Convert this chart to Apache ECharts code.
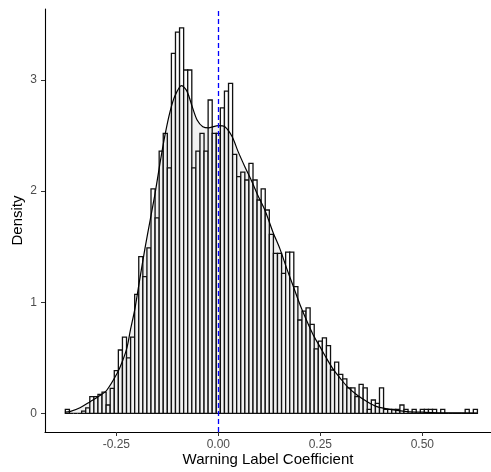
<!DOCTYPE html>
<html>
<head>
<meta charset="utf-8">
<script src="https://cdn.jsdelivr.net/npm/echarts@6/dist/echarts.min.js"></script>
<style>
html,body{margin:0;padding:0;background:#fff;}
#chart{width:491px;height:472px;}
</style>
</head>
<body>
<div id="chart"></div>
<script>
// Histogram bins (width 0.01), centers
const binWidth = 0.01;
const binCenters = [-0.37,-0.36,-0.35,-0.34,-0.33,-0.32,-0.31,-0.30,-0.29,-0.28,
  -0.27,-0.26,-0.25,-0.24,-0.23,-0.22,-0.21,-0.20,-0.19,-0.18,
  -0.17,-0.16,-0.15,-0.14,-0.13,-0.12,-0.11,-0.10,-0.09,-0.08,
  -0.07,-0.06,-0.05,-0.04,-0.03,-0.02,-0.01,0.00,0.01,0.02,
  0.03,0.04,0.05,0.06,0.07,0.08,0.09,0.10,0.11,0.12,
  0.13,0.14,0.15,0.16,0.17,0.18,0.19,0.20,0.21,0.22,
  0.23,0.24,0.25,0.26,0.27,0.28,0.29,0.30,0.31,0.32,
  0.33,0.34,0.35,0.36,0.37,0.38,0.39,0.40,0.41,0.42,
  0.43,0.44,0.45,0.46,0.47,0.48,0.49,0.50,0.51,0.52,
  0.53,0.54,0.55,0.56,0.57,0.58,0.59,0.60,0.61,0.62,0.63];
const binDensity = [0.036,0,0,0,0.02,0.05,0.15,0.15,0.17,0.19,
  0.075,0.225,0.385,0.57,0.685,0.50,0.685,1.07,1.41,1.23,
  1.49,2.02,1.76,2.36,2.52,2.21,3.24,3.43,3.47,3.09,
  3.09,2.21,2.36,2.52,2.36,2.82,2.52,2.52,2.75,2.90,
  2.97,2.33,2.13,2.17,2.10,2.25,2.10,1.92,2.02,1.83,
  1.61,1.44,1.44,1.26,1.45,1.45,1.14,0.84,0.92,0.95,
  0.80,0.58,0.65,0.68,0.61,0.39,0.46,0.35,0.31,0.23,
  0.23,0.15,0.26,0.23,0.036,0.12,0.09,0.23,0.036,0.036,
  0.036,0.036,0.075,0.036,0,0.036,0,0.036,0.036,0.036,
  0.036,0,0.036,0,0,0,0,0,0.036,0,0.036];

// Kernel density curve
const curveX = [-0.376,-0.364,-0.339,-0.314,-0.290,-0.273,-0.248,-0.236,-0.224,-0.216,
  -0.204,-0.192,-0.180,-0.167,-0.155,-0.143,-0.131,-0.118,-0.106,-0.090,
  -0.077,-0.064,-0.052,-0.038,-0.023,0.000,0.016,0.034,0.048,0.065,
  0.083,0.097,0.114,0.134,0.151,0.168,0.183,0.200,0.217,0.232,
  0.249,0.266,0.281,0.298,0.316,0.340,0.365,0.389,0.421,0.463,
  0.502,0.561,0.634];
const curveY = [0.01,0.015,0.05,0.105,0.16,0.21,0.36,0.46,0.59,0.74,
  0.95,1.22,1.48,1.74,1.98,2.25,2.50,2.72,2.86,2.95,
  2.90,2.76,2.64,2.58,2.57,2.59,2.58,2.49,2.36,2.22,
  2.08,1.96,1.83,1.63,1.48,1.30,1.15,0.98,0.83,0.71,
  0.60,0.49,0.40,0.32,0.24,0.165,0.105,0.06,0.035,0.016,
  0.01,0.004,0.003];

const xTicks = [-0.25, 0, 0.25, 0.5];
const xTickLabels = ['-0.25', '0.00', '0.25', '0.50'];
const yTicks = [0, 1, 2, 3];
const yTickLabels = ['0', '1', '2', '3'];
const refLineX = 0;

const font = '"Liberation Sans", Arial, Helvetica, sans-serif';
const chart = echarts.init(document.getElementById('chart'), null, {renderer: 'canvas'});

const barData = binCenters.map((c, i) => [c, binDensity[i]]);
const curveData = curveX.map((x, i) => [x, curveY[i]]);

chart.setOption({
  animation: false,
  backgroundColor: '#ffffff',
  grid: {left: 45, right: 0, top: 9, bottom: 40, containLabel: false, outerBoundsMode: 'none'},
  xAxis: {
    type: 'value', min: -0.4248, max: 0.6683,
    name: 'Warning Label Coefficient', nameLocation: 'middle', nameGap: 28, nameMoveOverlap: false,
    nameTextStyle: {fontFamily: font, fontSize: 15, color: '#000', verticalAlign: 'middle'},
    axisLine: {show: true, onZero: false, lineStyle: {color: '#000', width: 1.1}},
    axisTick: {show: true, customValues: xTicks, length: 4, lineStyle: {color: '#333', width: 1}},
    axisLabel: {customValues: xTicks, margin: 7, fontFamily: font, fontSize: 12, color: '#4D4D4D',
      formatter: v => { const k = xTicks.findIndex(t => Math.abs(t - v) < 1e-9); return k >= 0 ? xTickLabels[k] : ''; }},
    splitLine: {show: false}
  },
  yAxis: {
    type: 'value', min: -0.168, max: 3.639,
    name: 'Density', nameLocation: 'middle', nameGap: 27, nameRotate: 90, nameMoveOverlap: false,
    nameTextStyle: {fontFamily: font, fontSize: 15, color: '#000', verticalAlign: 'middle', align: 'center'},
    axisLine: {show: true, onZero: false, lineStyle: {color: '#000', width: 1.1}},
    axisTick: {show: true, customValues: yTicks, length: 4, lineStyle: {color: '#333', width: 1}},
    axisLabel: {customValues: yTicks, margin: 8, fontFamily: font, fontSize: 12, color: '#4D4D4D',
      formatter: v => { const k = yTicks.findIndex(t => Math.abs(t - v) < 1e-9); return k >= 0 ? yTickLabels[k] : ''; }},
    splitLine: {show: false}
  },
  series: [
    {
      type: 'custom',
      data: barData,
      z: 2,
      renderItem: function (params, api) {
        const c = api.value(0), h = api.value(1);
        const p0 = api.coord([c - binWidth / 2, h]);
        const p1 = api.coord([c + binWidth / 2, 0]);
        return {
          type: 'rect',
          shape: {x: p0[0], y: p0[1], width: p1[0] - p0[0], height: p1[1] - p0[1]},
          style: {fill: '#ffffff', stroke: '#111111', lineWidth: 1.3}
        };
      }
    },
    {
      type: 'line',
      data: curveData,
      z: 3,
      smooth: 0.3,
      showSymbol: false,
      lineStyle: {color: '#000', width: 1.2},
      areaStyle: {color: 'rgba(0,0,0,0.08)', origin: 0},
      markLine: {
        silent: true,
        symbol: ['none', 'none'],
        label: {show: false},
        lineStyle: {color: '#0000FF', type: [5, 3], width: 1.3},
        data: [{xAxis: refLineX}]
      }
    }
  ]
});
</script>
</body>
</html>
